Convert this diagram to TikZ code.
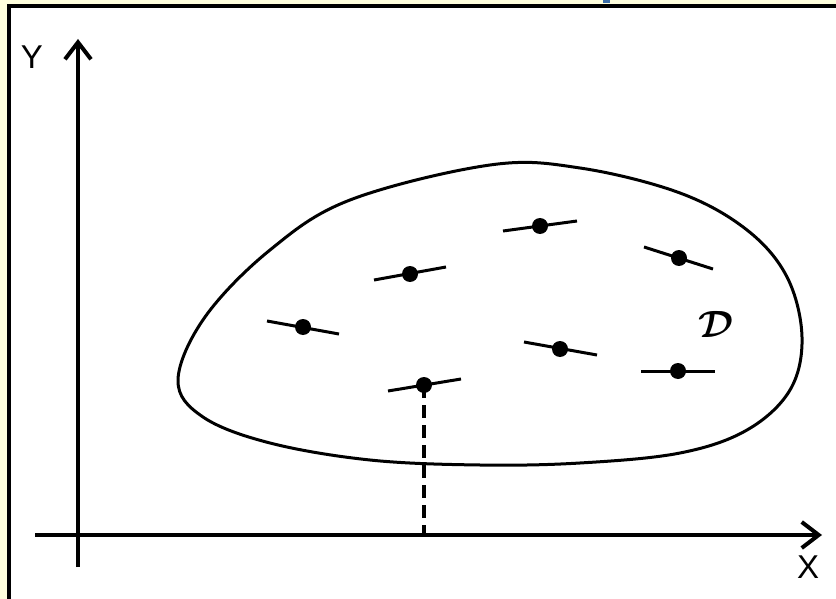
\documentclass[tikz,border=0pt]{standalone}
\usepackage{amsmath}
\usepackage{fontspec}
\setmainfont{Liberation Sans}
\usetikzlibrary{arrows.meta,calc}
\definecolor{bgyellow}{RGB}{255,255,221}
\definecolor{topblue}{RGB}{60,110,168}
\tikzset{
  axis/.style={line width=4pt, -{Straight Barb[length=17pt,width=26pt,line width=4pt]}},
  dotnode/.style={circle, fill=black, inner sep=0pt, minimum size=16pt},
  tick/.style={line width=3pt},
  region/.style={line width=3pt},
  proj/.style={line width=3.2pt, dash pattern=on 13pt off 7pt},
  axlabel/.style={font=\fontsize{33}{33}\selectfont, inner sep=0pt}
}
\begin{document}
\begin{tikzpicture}[x=1pt,y=-1pt]
\useasboundingbox (0,0) rectangle (836,599);
% background and frame
\fill[bgyellow] (0,0) rectangle (836,599);
\fill[white] (9,6) rectangle (836,599);
\fill[topblue] (603,0) rectangle (610,3);
\draw[line width=3.5pt] (9,599) -- (9,6) -- (836,6);
% axes
\coordinate (yb) at (78,567);
\coordinate (yt) at (78,39);
\coordinate (xl) at (35,535);
\coordinate (xr) at (822,535);
\draw[axis] (yb) -- (yt);
\draw[axis] (xl) -- (xr);
\node[axlabel] (ylab) at (32,57) {Y};
\node[axlabel] (xlab) at (808,567) {X};
% region
\draw[region] plot[smooth cycle, tension=0.6] coordinates {
 (178,380) (205,317) (270,250) (350,200) (490,165) (580,168) (680,193)
 (747,230) (787,277) (802,337) (790,390) (747,430) (680,453) (580,463)
 (480,465) (370,460) (270,443) (203,417)};
\node[inner sep=0pt] (dlab) at (716,324) {\scalebox{3.8}{$\boldsymbol{\mathcal{D}}$}};
% points
\node[dotnode] (pa) at (303,327) {};
\node[dotnode] (pb) at (410,274) {};
\node[dotnode] (pc) at (540,226) {};
\node[dotnode] (pd) at (679,258) {};
\node[dotnode] (pe) at (560,349) {};
\node[dotnode] (pf) at (678,371) {};
\node[dotnode] (pg) at (424,385) {};
\draw[tick] ([shift={(-36,-6)}]pa.center) -- ([shift={(36,7)}]pa.center);
\draw[tick] ([shift={(-36,6)}]pb.center) -- ([shift={(36,-7)}]pb.center);
\draw[tick] ([shift={(-37,5)}]pc.center) -- ([shift={(37,-5)}]pc.center);
\draw[tick] ([shift={(-35,-11)}]pd.center) -- ([shift={(34,11)}]pd.center);
\draw[tick] ([shift={(-36,-7)}]pe.center) -- ([shift={(37,6)}]pe.center);
\draw[tick] ([shift={(-37,0)}]pf.center) -- ([shift={(37,0)}]pf.center);
\draw[tick] ([shift={(-36,6)}]pg.center) -- ([shift={(37,-6)}]pg.center);
% projection
\coordinate (pgx) at (424,535);
\draw[proj] (pg.center) -- (pgx);
\end{tikzpicture}
\end{document}
